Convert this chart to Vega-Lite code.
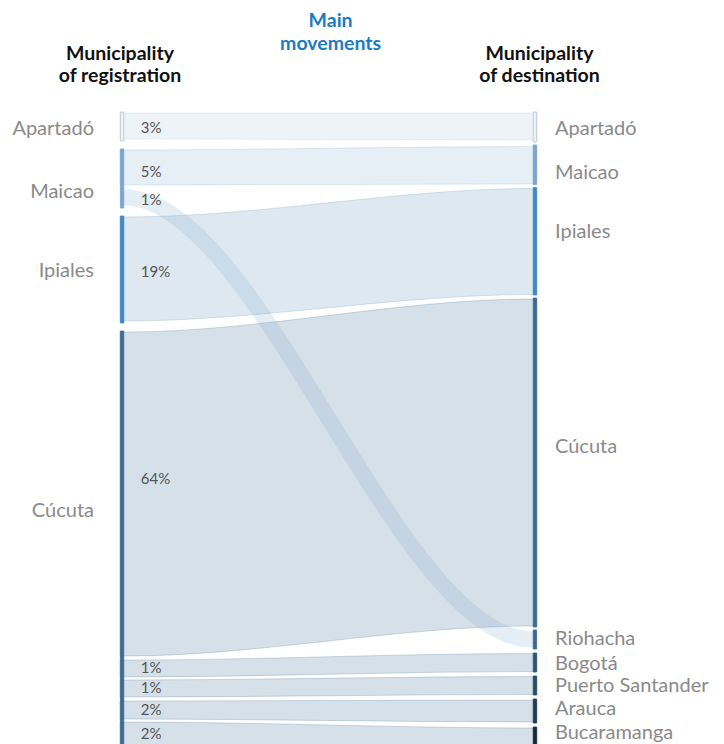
{
  "$schema": "https://vega.github.io/schema/vega-lite/v6.json",
  "width": 417,
  "height": 632,
  "autosize": {"type": "none"},
  "padding": {"left": 120, "top": 112, "right": 187, "bottom": 0},
  "background": "white",
  "config": {"view": {"stroke": null}, "font": "Lato", "scale": {"continuousPadding": 0}},
  "datasets": {
    "links": [
      {"link": "Apartadó → Apartadó", "source": "Apartadó", "x": 0, "top": 0.2, "bottom": 5.4},
      {"link": "Apartadó → Apartadó", "source": "Apartadó", "x": 1, "top": 0.2, "bottom": 5.4},
      {"link": "Apartadó → Apartadó", "source": "Apartadó", "x": 99, "top": 0.2, "bottom": 5.6},
      {"link": "Apartadó → Apartadó", "source": "Apartadó", "x": 100, "top": 0.2, "bottom": 5.6},
      {"link": "Maicao → Maicao", "source": "Maicao", "x": 0, "top": 7.6, "bottom": 14.6},
      {"link": "Maicao → Maicao", "source": "Maicao", "x": 1, "top": 7.6, "bottom": 14.6},
      {"link": "Maicao → Maicao", "source": "Maicao", "x": 99, "top": 6.9, "bottom": 14.4},
      {"link": "Maicao → Maicao", "source": "Maicao", "x": 100, "top": 6.9, "bottom": 14.4},
      {"link": "Ipiales → Ipiales", "source": "Ipiales", "x": 0, "top": 21.0, "bottom": 41.8},
      {"link": "Ipiales → Ipiales", "source": "Ipiales", "x": 1, "top": 21.0, "bottom": 41.8},
      {"link": "Ipiales → Ipiales", "source": "Ipiales", "x": 99, "top": 15.3, "bottom": 36.5},
      {"link": "Ipiales → Ipiales", "source": "Ipiales", "x": 100, "top": 15.3, "bottom": 36.5},
      {"link": "Cúcuta → Cúcuta", "source": "Cúcuta", "x": 0, "top": 44.0, "bottom": 108.8},
      {"link": "Cúcuta → Cúcuta", "source": "Cúcuta", "x": 1, "top": 44.0, "bottom": 108.8},
      {"link": "Cúcuta → Cúcuta", "source": "Cúcuta", "x": 99, "top": 37.4, "bottom": 102.8},
      {"link": "Cúcuta → Cúcuta", "source": "Cúcuta", "x": 100, "top": 37.4, "bottom": 102.8},
      {"link": "Cúcuta → Bogotá", "source": "Cúcuta", "x": 0, "top": 109.6, "bottom": 113.0},
      {"link": "Cúcuta → Bogotá", "source": "Cúcuta", "x": 1, "top": 109.6, "bottom": 113.0},
      {"link": "Cúcuta → Bogotá", "source": "Cúcuta", "x": 99, "top": 108.3, "bottom": 111.9},
      {"link": "Cúcuta → Bogotá", "source": "Cúcuta", "x": 100, "top": 108.3, "bottom": 111.9},
      {"link": "Cúcuta → Puerto Santander", "source": "Cúcuta", "x": 0, "top": 113.6, "bottom": 117.0},
      {"link": "Cúcuta → Puerto Santander", "source": "Cúcuta", "x": 1, "top": 113.6, "bottom": 117.0},
      {"link": "Cúcuta → Puerto Santander", "source": "Cúcuta", "x": 99, "top": 112.9, "bottom": 116.5},
      {"link": "Cúcuta → Puerto Santander", "source": "Cúcuta", "x": 100, "top": 112.9, "bottom": 116.5},
      {"link": "Cúcuta → Arauca", "source": "Cúcuta", "x": 0, "top": 117.8, "bottom": 121.4},
      {"link": "Cúcuta → Arauca", "source": "Cúcuta", "x": 1, "top": 117.8, "bottom": 121.4},
      {"link": "Cúcuta → Arauca", "source": "Cúcuta", "x": 99, "top": 117.6, "bottom": 122.0},
      {"link": "Cúcuta → Arauca", "source": "Cúcuta", "x": 100, "top": 117.6, "bottom": 122.0},
      {"link": "Cúcuta → Bucaramanga", "source": "Cúcuta", "x": 0, "top": 122.0, "bottom": 127.0},
      {"link": "Cúcuta → Bucaramanga", "source": "Cúcuta", "x": 1, "top": 122.0, "bottom": 127.0},
      {"link": "Cúcuta → Bucaramanga", "source": "Cúcuta", "x": 99, "top": 123.2, "bottom": 128.0},
      {"link": "Cúcuta → Bucaramanga", "source": "Cúcuta", "x": 100, "top": 123.2, "bottom": 128.0}
    ],
    "crossing": [
      {"link": "Maicao → Riohacha", "x": 0, "y": 17.1, "w": 3.2},
      {"link": "Maicao → Riohacha", "x": 1, "y": 17.1, "w": 3.2},
      {"link": "Maicao → Riohacha", "x": 99, "y": 105.5, "w": 3.2},
      {"link": "Maicao → Riohacha", "x": 100, "y": 105.5, "w": 3.2}
    ],
    "nodes": [
      {"side": "registration", "node": "Apartadó", "x": 0.5, "top": 0, "bottom": 5.8, "label_y": 4.6},
      {"side": "registration", "node": "Maicao", "x": 0.5, "top": 7.4, "bottom": 19.2, "label_y": 17.2},
      {"side": "registration", "node": "Ipiales", "x": 0.5, "top": 20.8, "bottom": 42.2, "label_y": 33},
      {"side": "registration", "node": "Cúcuta", "x": 0.5, "top": 43.8, "bottom": 130, "label_y": 81},
      {"side": "destination", "node": "Apartadó", "x": 99.5, "top": 0, "bottom": 6, "label_y": 4.6},
      {"side": "destination", "node": "Maicao", "x": 99.5, "top": 6.6, "bottom": 14.5, "label_y": 13.4},
      {"side": "destination", "node": "Ipiales", "x": 99.5, "top": 15.1, "bottom": 36.6, "label_y": 25.2},
      {"side": "destination", "node": "Cúcuta", "x": 99.5, "top": 37.2, "bottom": 103, "label_y": 68.2},
      {"side": "destination", "node": "Riohacha", "x": 99.5, "top": 103.6, "bottom": 107.4, "label_y": 106.6},
      {"side": "destination", "node": "Bogotá", "x": 99.5, "top": 108.2, "bottom": 112, "label_y": 111.6},
      {"side": "destination", "node": "Puerto Santander", "x": 99.5, "top": 112.8, "bottom": 116.6, "label_y": 116},
      {"side": "destination", "node": "Arauca", "x": 99.5, "top": 117.4, "bottom": 122.2, "label_y": 120.6},
      {"side": "destination", "node": "Bucaramanga", "x": 99.5, "top": 123, "bottom": 130, "label_y": 125.4}
    ],
    "pcts": [
      {"link": "Apartadó → Apartadó", "pct": "3%", "y": 4.2},
      {"link": "Maicao → Maicao", "pct": "5%", "y": 13},
      {"link": "Maicao → Riohacha", "pct": "1%", "y": 18.6},
      {"link": "Ipiales → Ipiales", "pct": "19%", "y": 33},
      {"link": "Cúcuta → Cúcuta", "pct": "64%", "y": 74.4},
      {"link": "Cúcuta → Bogotá", "pct": "1%", "y": 112.2},
      {"link": "Cúcuta → Puerto Santander", "pct": "1%", "y": 116.2},
      {"link": "Cúcuta → Arauca", "pct": "2%", "y": 120.6},
      {"link": "Cúcuta → Bucaramanga", "pct": "2%", "y": 125.4}
    ],
    "headers": [
      {"group": "column", "text": "Municipality", "x": 0, "y": -10.4},
      {"group": "column", "text": "of registration", "x": 0, "y": -6},
      {"group": "main", "text": "Main", "x": 50.5, "y": -17},
      {"group": "main", "text": "movements", "x": 50.5, "y": -12.4},
      {"group": "column", "text": "Municipality", "x": 100.6, "y": -10.4},
      {"group": "column", "text": "of destination", "x": 100.6, "y": -6}
    ]
  },
  "resolve": {"scale": {"stroke": "independent", "color": "independent", "fill": "independent", "size": "independent"}},
  "layer": [
    {
      "data": {"name": "links"},
      "mark": {"type": "area", "interpolate": "monotone", "fillOpacity": 0.2, "strokeOpacity": 0.22, "strokeWidth": 1},
      "encoding": {
        "x": {"field": "x", "type": "quantitative", "scale": {"domain": [0, 100], "nice": false, "zero": false, "padding": 0}, "axis": null},
        "y": {"field": "top", "type": "quantitative", "scale": {"domain": [0, 126.4], "nice": false, "zero": false, "reverse": true, "padding": 0}, "axis": null},
        "y2": {"field": "bottom"},
        "detail": {"field": "link"},
        "color": {"field": "source", "type": "nominal", "legend": null,
          "scale": {"domain": ["Apartadó", "Maicao", "Ipiales", "Cúcuta"], "range": ["#aac3d7", "#82aad2", "#558cb4", "#32648c"]}},
        "stroke": {"field": "source", "type": "nominal", "legend": null,
          "scale": {"domain": ["Apartadó", "Maicao", "Ipiales", "Cúcuta"], "range": ["#aac3d7", "#82aad2", "#558cb4", "#32648c"]}}
      }
    },
    {
      "data": {"name": "crossing"},
      "mark": {"type": "line", "interpolate": "monotone", "color": "#82aad2", "strokeOpacity": 0.21, "strokeCap": "butt"},
      "encoding": {
        "x": {"field": "x", "type": "quantitative", "scale": {"domain": [0, 100], "nice": false, "zero": false, "padding": 0}, "axis": null},
        "y": {"field": "y", "type": "quantitative", "scale": {"domain": [0, 126.4], "nice": false, "zero": false, "reverse": true, "padding": 0}, "axis": null},
        "detail": {"field": "link"},
        "size": {"field": "w", "type": "quantitative", "legend": null, "scale": {"domain": [0, 10], "range": [0, 50]}}
      }
    },
    {
      "data": {"name": "nodes"},
      "mark": {"type": "bar", "width": 3.4, "strokeWidth": 0.8},
      "encoding": {
        "x": {"field": "x", "type": "quantitative", "scale": {"domain": [0, 100], "nice": false, "zero": false, "padding": 0}, "axis": null},
        "y": {"field": "top", "type": "quantitative", "scale": {"domain": [0, 126.4], "nice": false, "zero": false, "reverse": true, "padding": 0}, "axis": null},
        "y2": {"field": "bottom"},
        "fill": {"field": "node", "type": "nominal", "legend": null,
          "scale": {"domain": ["Apartadó", "Maicao", "Ipiales", "Cúcuta", "Riohacha", "Bogotá", "Puerto Santander", "Arauca", "Bucaramanga"],
                    "range": ["#edf1f5", "#7ba4cf", "#3d88c5", "#3c6b91", "#386890", "#2c5677", "#264c6b", "#1f3c56", "#15283a"]}},
        "stroke": {"field": "node", "type": "nominal", "legend": null,
          "scale": {"domain": ["Apartadó", "Maicao", "Ipiales", "Cúcuta", "Riohacha", "Bogotá", "Puerto Santander", "Arauca", "Bucaramanga"],
                    "range": ["#bcc6d0", "#7ba4cf", "#3d88c5", "#3c6b91", "#386890", "#2c5677", "#264c6b", "#1f3c56", "#15283a"]}}
      }
    },
    {
      "data": {"name": "nodes"},
      "transform": [{"filter": "datum.side === 'registration'"}],
      "mark": {"type": "text", "align": "right", "baseline": "alphabetic", "dx": -26, "fontSize": 20, "fontWeight": 400, "color": "#8a8a8a"},
      "encoding": {
        "x": {"datum": 0, "type": "quantitative"},
        "y": {"field": "label_y", "type": "quantitative"},
        "text": {"field": "node"}
      }
    },
    {
      "data": {"name": "nodes"},
      "transform": [{"filter": "datum.side === 'destination'"}],
      "mark": {"type": "text", "align": "left", "baseline": "alphabetic", "dx": 18, "fontSize": 20, "fontWeight": 400, "color": "#8a8a8a"},
      "encoding": {
        "x": {"datum": 100, "type": "quantitative"},
        "y": {"field": "label_y", "type": "quantitative"},
        "text": {"field": "node"}
      }
    },
    {
      "data": {"name": "pcts"},
      "mark": {"type": "text", "align": "left", "baseline": "alphabetic", "fontSize": 15, "color": "#555555"},
      "encoding": {
        "x": {"datum": 5, "type": "quantitative"},
        "y": {"field": "y", "type": "quantitative"},
        "text": {"field": "pct"}
      }
    },
    {
      "data": {"name": "headers"},
      "transform": [{"filter": "datum.group === 'column'"}],
      "mark": {"type": "text", "align": "center", "baseline": "alphabetic", "fontSize": 19.5, "fontWeight": "bold", "color": "#111111"},
      "encoding": {
        "x": {"field": "x", "type": "quantitative"},
        "y": {"field": "y", "type": "quantitative"},
        "text": {"field": "text"}
      }
    },
    {
      "data": {"name": "headers"},
      "transform": [{"filter": "datum.group === 'main'"}],
      "mark": {"type": "text", "align": "center", "baseline": "alphabetic", "fontSize": 19.5, "fontWeight": "bold", "color": "#1b7bc3"},
      "encoding": {
        "x": {"field": "x", "type": "quantitative"},
        "y": {"field": "y", "type": "quantitative"},
        "text": {"field": "text"}
      }
    }
  ]
}
